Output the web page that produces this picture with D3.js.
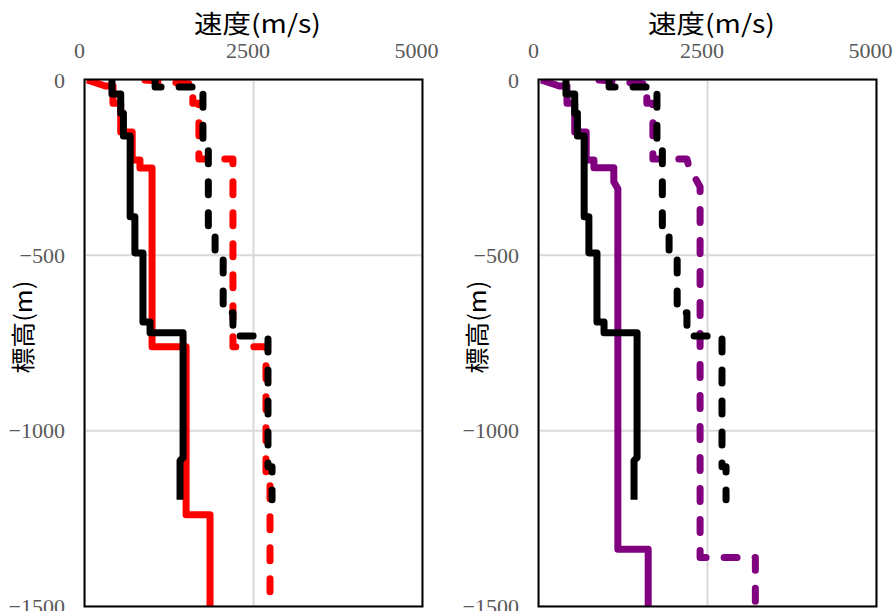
<!DOCTYPE html>
<html>
<head>
<meta charset="utf-8">
<script src="https://cdn.jsdelivr.net/npm/d3@7/dist/d3.min.js"></script>
<style>
  html, body { margin: 0; padding: 0; background: #fff; }
  svg { display: block; }
</style>
</head>
<body>
<svg id="chart" width="893" height="611"></svg>
<script>
// ---- Data (velocity m/s, elevation m) ----
const xTickValues = [0, 2500, 5000];
const yTickValues = [0, -500, -1000, -1500];
const xTitle = "速度(m/s)";
const yTitle = "標高(m)";

const blackSolid = [[400,0],[400,-40],[530,-40],[530,-95],[570,-95],[570,-160],[670,-160],[670,-390],[740,-390],[740,-493],[860,-493],[860,-690],[965,-690],[965,-721],[1455,-721],[1455,-1077],[1410,-1085],[1410,-1197]];
const blackDashed = [[1040,0],[1040,-20],[1750,-20],[1750,-190],[1830,-190],[1830,-442],[1930,-442],[1930,-507],[2050,-507],[2050,-664],[2195,-664],[2195,-730],[2715,-730],[2715,-1103],[2775,-1103],[2775,-1197]];
const redSolid = [[30,0],[300,-17],[415,-17],[415,-66],[530,-66],[530,-148],[700,-148],[700,-228],[815,-228],[815,-251],[995,-251],[995,-761],[1500,-761],[1500,-1240],[1855,-1240],[1855,-1500]];
const redDashed = [[890,0],[1560,-11],[1600,-11],[1600,-66],[1690,-66],[1690,-225],[2195,-225],[2195,-761],[2685,-761],[2685,-1120],[2745,-1120],[2745,-1500]];
const purpleSolid = [[30,0],[300,-17],[415,-17],[415,-66],[530,-66],[530,-148],[700,-148],[700,-228],[815,-228],[815,-250],[1110,-250],[1110,-290],[1170,-310],[1170,-1338],[1620,-1338],[1620,-1500]];
const purpleDashed = [[890,0],[1560,-11],[1600,-11],[1600,-66],[1690,-66],[1690,-225],[2195,-225],[2220,-245],[2390,-305],[2390,-1362],[3210,-1362],[3210,-1500]];

const panels = [
  { id: "L", x0: 85, x1: 422, series: [
      { data: redSolid, color: "#FF0000", dashed: false },
      { data: redDashed, color: "#FF0000", dashed: true },
      { data: blackSolid, color: "#000000", dashed: false },
      { data: blackDashed, color: "#000000", dashed: true } ] },
  { id: "R", x0: 539, x1: 876, series: [
      { data: purpleSolid, color: "#800080", dashed: false },
      { data: purpleDashed, color: "#800080", dashed: true },
      { data: blackSolid, color: "#000000", dashed: false },
      { data: blackDashed, color: "#000000", dashed: true } ] }
];

const yTop = 80, yBottom = 606;
const svg = d3.select("#chart");
const defs = svg.append("defs");

panels.forEach(p => {
  const x = d3.scaleLinear().domain([0, 5000]).range([p.x0, p.x1]);
  const y = d3.scaleLinear().domain([0, -1500]).range([yTop, yBottom]);
  const g = svg.append("g");

  // gridlines
  g.selectAll("line.vg").data(xTickValues).join("line")
    .attr("x1", d => x(d)).attr("x2", d => x(d))
    .attr("y1", yTop).attr("y2", yBottom)
    .attr("stroke", "#d9d9d9").attr("stroke-width", 2);
  g.selectAll("line.hg").data(yTickValues).join("line")
    .attr("x1", p.x0).attr("x2", p.x1)
    .attr("y1", d => y(d)).attr("y2", d => y(d))
    .attr("stroke", "#d9d9d9").attr("stroke-width", 2);

  // clip
  defs.append("clipPath").attr("id", "clip" + p.id).append("rect")
    .attr("x", p.x0).attr("y", yTop).attr("width", p.x1 - p.x0).attr("height", yBottom - yTop);

  const line = d3.line().x(d => x(d[0])).y(d => y(d[1]));
  const lg = g.append("g").attr("clip-path", `url(#clip${p.id})`);
  p.series.forEach(s => {
    lg.append("path").attr("d", line(s.data))
      .attr("fill", "none").attr("stroke", s.color)
      .attr("stroke-width", 7)
      .attr("stroke-linejoin", "round")
      .attr("stroke-linecap", s.dashed ? "round" : "butt")
      .attr("stroke-dasharray", s.dashed ? "13,18" : null);
  });

  // frame
  g.append("rect").attr("x", p.x0 - 0.5).attr("y", yTop - 0.5)
    .attr("width", p.x1 - p.x0 + 1).attr("height", yBottom - yTop + 1)
    .attr("fill", "none").attr("stroke", "#000").attr("stroke-width", 2);

  // axes
  const ax = g.append("g").attr("transform", `translate(0,${yTop - 22})`)
    .call(d3.axisTop(x).tickValues(xTickValues).tickSize(0).tickPadding(0).tickFormat(d3.format("d")));
  ax.select(".domain").remove();
  ax.selectAll("text").attr("dx", -6)
    .attr("font-family", "'Liberation Serif', 'DejaVu Serif', serif")
    .attr("font-size", 22).attr("fill", "#595959");

  const ay = g.append("g").attr("transform", `translate(${p.x0 - 20},0)`)
    .call(d3.axisLeft(y).tickValues(yTickValues).tickSize(0).tickPadding(0).tickFormat(d3.format("d")));
  ay.select(".domain").remove();
  ay.selectAll("text")
    .attr("font-family", "'Liberation Serif', 'DejaVu Serif', serif")
    .attr("font-size", 22).attr("fill", "#595959");

  // titles
  g.append("text").text(xTitle)
    .attr("x", (p.x0 + p.x1) / 2 + 4).attr("y", 33)
    .attr("text-anchor", "middle")
    .attr("font-family", "'Noto Sans CJK JP', sans-serif")
    .attr("font-size", 25).attr("fill", "#000")
    .attr("textLength", 127).attr("lengthAdjust", "spacingAndGlyphs");

  g.append("text").text(yTitle)
    .attr("transform", `translate(${p.x0 - 53},327) rotate(-90)`)
    .attr("text-anchor", "middle")
    .attr("font-family", "'Noto Sans CJK JP', sans-serif")
    .attr("font-size", 24).attr("fill", "#000")
    .attr("textLength", 93).attr("lengthAdjust", "spacingAndGlyphs");
});
</script>
</body>
</html>
